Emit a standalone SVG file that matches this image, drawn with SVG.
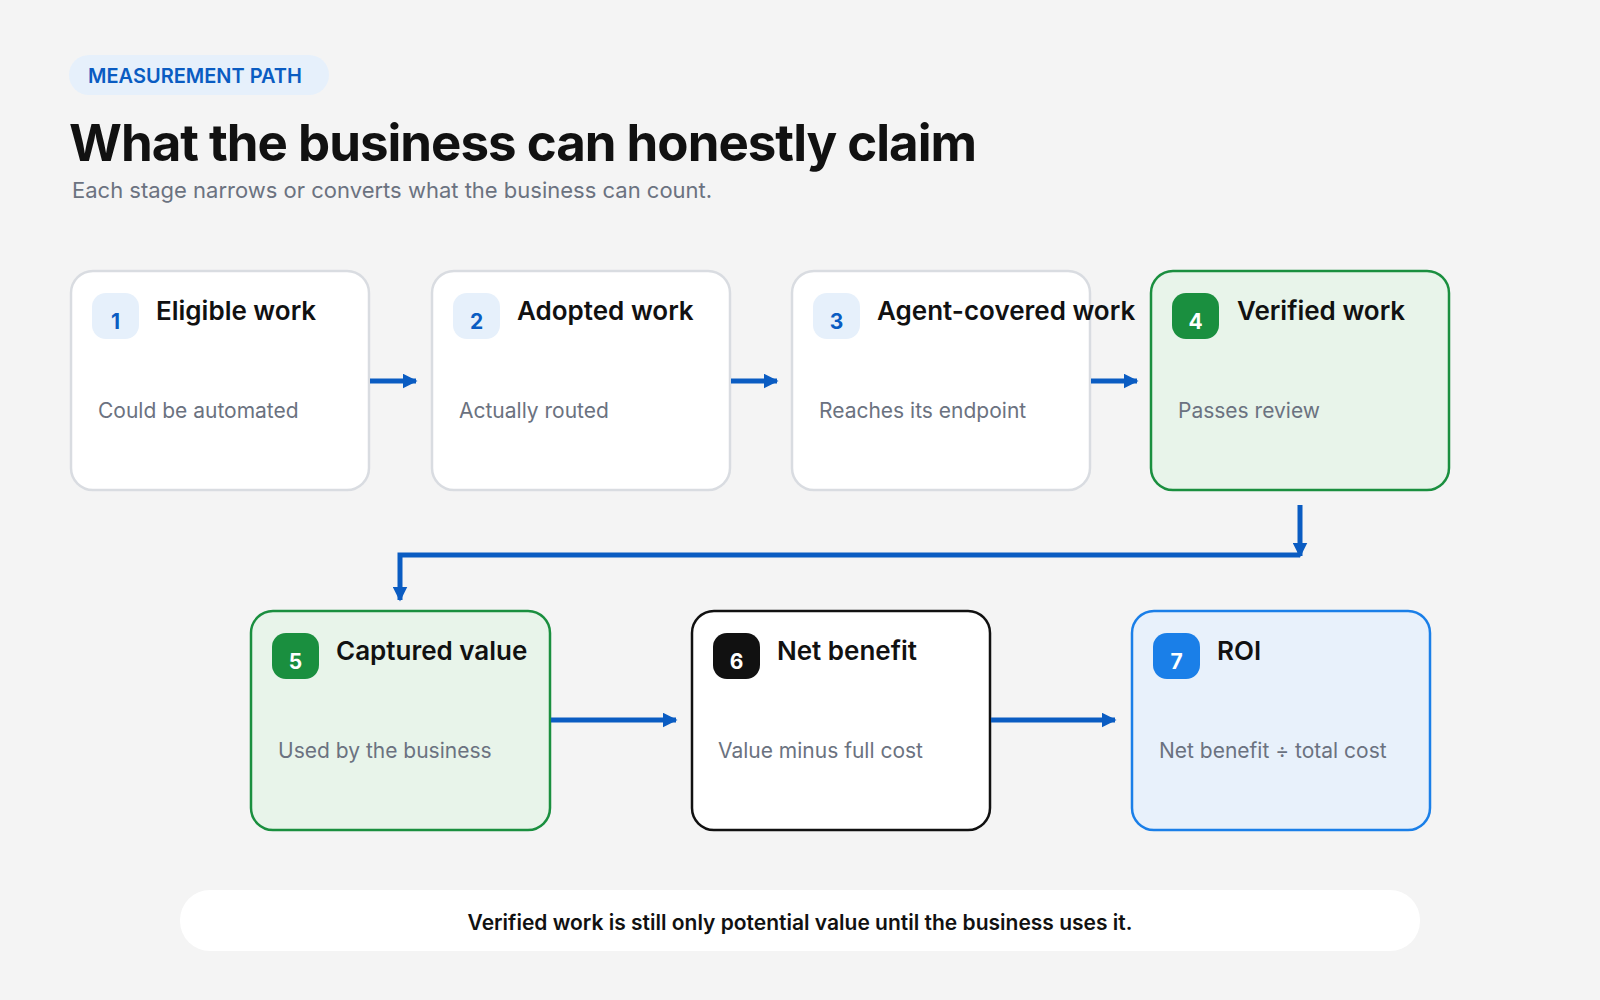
<svg xmlns="http://www.w3.org/2000/svg" width="1600" height="1000" viewBox="0 0 1600 1000">
<defs>
<style>
text{font-family:Inter,"Liberation Sans",sans-serif}
.box{fill:#fff;stroke:#d9dce1;stroke-width:2.5}
.g{fill:#e8f4ea;stroke:#1a8f3f;stroke-width:2.5}
.b{fill:#e8f1fb;stroke:#1a7fe8;stroke-width:2.5}
.k{fill:#fff;stroke:#111;stroke-width:2.5}
.t{font-size:26px;font-weight:600;fill:#111}
.d{font-size:21px;fill:#6b7280}
.n{font-size:21px;font-weight:700;text-anchor:middle}
.c{fill:none;stroke:#0a5cc2;stroke-width:5}
</style>
<marker id="a" viewBox="0 0 10 10" refX="9" refY="5" markerWidth="3" markerHeight="3" orient="auto"><path d="M0 0L10 5L0 10z" fill="#0a5cc2"/></marker>
</defs>
<rect width="1600" height="1000" fill="#f4f4f4"/>
<rect x="69" y="55" width="260" height="40" rx="20" fill="#e6f0fb"/>
<text x="88" y="83" font-size="20" font-weight="600" fill="#0a5cc2">MEASUREMENT PATH</text>
<text x="69" y="161" font-size="51" font-weight="700" fill="#111" letter-spacing="-1">What the business can honestly claim</text>
<text x="72" y="198" font-size="22" fill="#6b7280">Each stage narrows or converts what the business can count.</text>
<g id="n1"><rect class="box" x="71" y="271" width="298" height="219" rx="22"/><rect x="92" y="293" width="47" height="46" rx="14" fill="#e6f0fb"/><text class="n" x="115.5" y="329" fill="#0a5cc2">1</text><text class="t" x="156" y="320">Eligible work</text><text class="d" x="98" y="418">Could be automated</text></g>
<g id="n2"><rect class="box" x="432" y="271" width="298" height="219" rx="22"/><rect x="453" y="293" width="47" height="46" rx="14" fill="#e6f0fb"/><text class="n" x="476.5" y="329" fill="#0a5cc2">2</text><text class="t" x="517" y="320">Adopted work</text><text class="d" x="459" y="418">Actually routed</text></g>
<g id="n3"><rect class="box" x="792" y="271" width="298" height="219" rx="22"/><rect x="813" y="293" width="47" height="46" rx="14" fill="#e6f0fb"/><text class="n" x="836.5" y="329" fill="#0a5cc2">3</text><text class="t" x="877" y="320">Agent-covered work</text><text class="d" x="819" y="418">Reaches its endpoint</text></g>
<g id="n4"><rect class="g" x="1151" y="271" width="298" height="219" rx="22"/><rect x="1172" y="293" width="47" height="46" rx="14" fill="#1a8f3f"/><text class="n" x="1195.5" y="329" fill="#fff">4</text><text class="t" x="1237" y="320" fill="#1a8f3f">Verified work</text><text class="d" x="1178" y="418">Passes review</text></g>
<g id="n5"><rect class="g" x="251" y="611" width="299" height="219" rx="22"/><rect x="272" y="633" width="47" height="46" rx="14" fill="#1a8f3f"/><text class="n" x="295.5" y="669" fill="#fff">5</text><text class="t" x="336" y="660" fill="#1a8f3f">Captured value</text><text class="d" x="278" y="758">Used by the business</text></g>
<g id="n6"><rect class="k" x="692" y="611" width="298" height="219" rx="22"/><rect x="713" y="633" width="47" height="46" rx="14" fill="#111"/><text class="n" x="736.5" y="669" fill="#fff">6</text><text class="t" x="777" y="660">Net benefit</text><text class="d" x="718" y="758">Value minus full cost</text></g>
<g id="n7"><rect class="b" x="1132" y="611" width="298" height="219" rx="22"/><rect x="1153" y="633" width="47" height="46" rx="14" fill="#1a7fe8"/><text class="n" x="1176.5" y="669" fill="#fff">7</text><text class="t" x="1217" y="660" fill="#0a5cc2">ROI</text><text class="d" x="1159" y="758">Net benefit ÷ total cost</text></g>
<g id="connectors">
<path class="c" d="M370 381H416" marker-end="url(#a)"/>
<path class="c" d="M731 381H777" marker-end="url(#a)"/>
<path class="c" d="M1091 381H1137" marker-end="url(#a)"/>
<path class="c" d="M1300 505V556" marker-end="url(#a)"/>
<path class="c" d="M1300 555H400V600" marker-end="url(#a)"/>
<path class="c" d="M551 720H676" marker-end="url(#a)"/>
<path class="c" d="M991 720H1115" marker-end="url(#a)"/>
</g>
<rect x="180" y="890" width="1240" height="61" rx="30" fill="#fff"/>
<text x="800" y="930" font-size="21" font-weight="600" fill="#111" text-anchor="middle">Verified work is still only potential value until the business uses it.</text>
</svg>
